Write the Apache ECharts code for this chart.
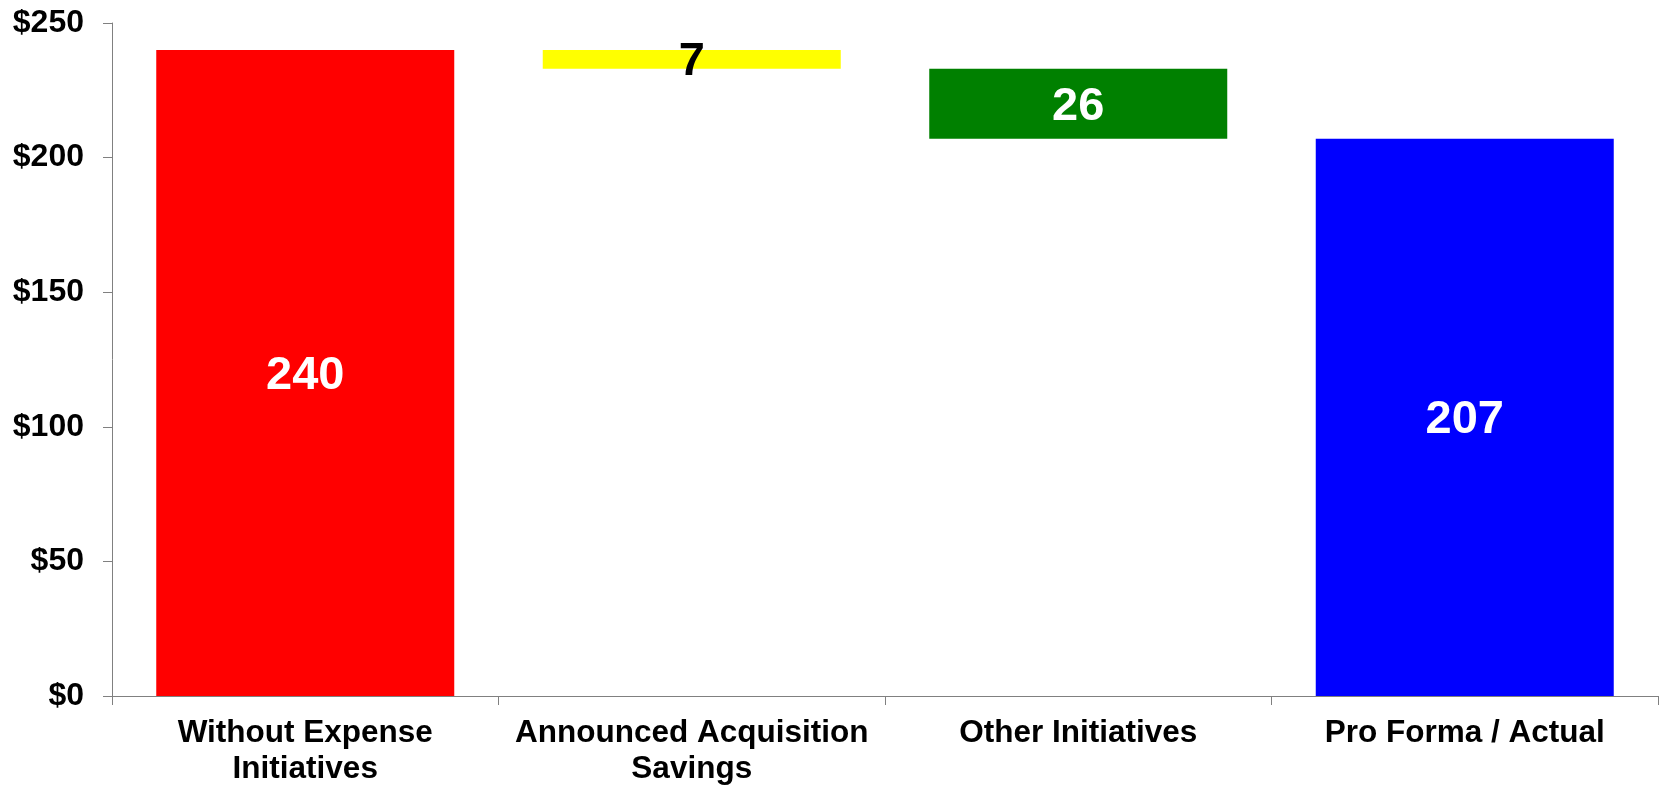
<!DOCTYPE html>
<html>
<head>
<meta charset="utf-8">
<script src="https://cdn.jsdelivr.net/npm/echarts@6/dist/echarts.min.js"></script>
<style>
  html, body { margin: 0; padding: 0; background: #fff; }
  #chart { width: 1662px; height: 788px; }
</style>
</head>
<body>
<div id="chart"></div>
<script>
// Expense bridge: starting level, savings steps, ending level
const categories = ['Without Expense\nInitiatives', 'Announced Acquisition\nSavings', 'Other Initiatives', 'Pro Forma / Actual'];
const startValue = 240;
const savingsValues = [7, 26];
const endValue = 207;
const barColors = ['#FF0000', '#FFFF00', '#008000', '#0000FF'];
const labelColors = ['#FFFFFF', '#000000', '#FFFFFF', '#FFFFFF'];
const yTicks = { min: 0, max: 250, interval: 50 };

// Invisible base for the floating savings steps
const baseData = ['-'];
const visibleValues = [startValue];
let running = startValue;
savingsValues.forEach(v => {
  running -= v;
  baseData.push(running);
  visibleValues.push(v);
});
baseData.push('-');
visibleValues.push(endValue);

const font = '"Liberation Sans", Arial, sans-serif';

const chart = echarts.init(document.getElementById('chart'));
chart.setOption({
  animation: false,
  grid: { left: 112, right: 4, top: 23, bottom: 92 },
  xAxis: {
    type: 'category',
    data: categories,
    axisLine: { lineStyle: { color: '#808080', width: 1 } },
    axisTick: { show: true, length: 9, lineStyle: { color: '#808080' } },
    axisLabel: {
      margin: 19,
      color: '#000',
      fontFamily: font,
      fontWeight: 'bold',
      fontSize: 31.5,
      lineHeight: 36,
      interval: 0
    }
  },
  yAxis: {
    type: 'value',
    min: yTicks.min,
    max: yTicks.max,
    interval: yTicks.interval,
    splitLine: { show: false },
    axisLine: { show: true, lineStyle: { color: '#808080', width: 1 } },
    axisTick: { show: true, length: 9, lineStyle: { color: '#808080' } },
    axisLabel: {
      margin: 28,
      color: '#000',
      fontFamily: font,
      fontWeight: 'bold',
      fontSize: 32,
      formatter: v => '$' + v
    }
  },
  series: [
    {
      type: 'bar',
      stack: 'bridge',
      data: baseData,
      barWidth: 298,
      itemStyle: { color: 'transparent' },
      silent: true
    },
    {
      type: 'bar',
      stack: 'bridge',
      barWidth: 298,
      data: visibleValues.map((v, i) => ({
        value: v,
        itemStyle: { color: barColors[i] },
        label: { color: labelColors[i] }
      })),
      label: {
        show: true,
        position: 'inside',
        offset: [0, 3],
        fontFamily: font,
        fontWeight: 'bold',
        fontSize: 47
      }
    }
  ]
});
</script>
</body>
</html>
